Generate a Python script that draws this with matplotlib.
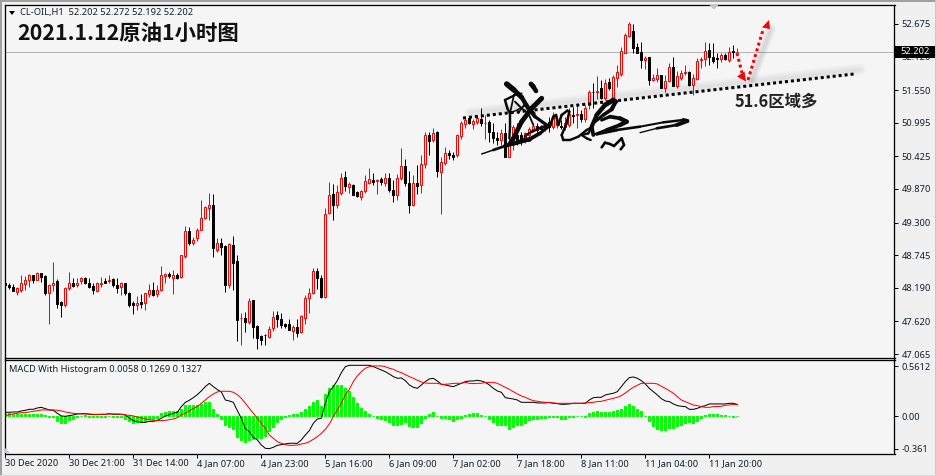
"""CL-OIL H1 candles with MACD pane, MT4 style."""

import numpy as np
from matplotlib import pyplot as plt
from matplotlib.patches import Polygon

plt.switch_backend("Agg")

W, H = 937, 476
DPI = 100
PX = 72 / DPI  # one pixel in points

BG = "#f5f5f5"
RED = "#ff0000"
GREEN = "#00ff00"
TEXT = "#10202c"
UI_FONT = ["Noto Sans", "DejaVu Sans"]
CJK_FONT = ["Noto Sans CJK SC", "DejaVu Sans"]
UI_SIZE = 6.7
PEN_SCALE = 1.45  # signature looked thin at the widths

opens = [
    48.27, 48.24, 48.20, 48.12, 48.16, 48.26, 48.33, 48.40, 48.33, 48.44,
    48.39, 48.11, 48.23, 48.30, 47.95, 47.89, 48.18, 48.27, 48.23, 48.30,
    48.36, 48.28, 48.22, 48.14, 48.26, 48.30, 48.30, 48.34, 48.23, 48.21,
    48.27, 48.11, 47.93, 47.89, 47.95, 47.94, 48.09, 48.15, 48.09, 48.16,
    48.39, 48.42, 48.35, 48.41, 48.37, 48.73, 49.16, 48.96, 49.03, 49.18,
    49.38, 49.54, 49.60, 48.84, 48.95, 48.90, 48.23, 48.92, 48.65, 47.67,
    47.68, 47.61, 47.98, 47.54, 47.37, 47.39, 47.36, 47.50, 47.73, 47.66,
    47.57, 47.575, 47.46, 47.525, 47.44, 47.67, 48.02, 48.11, 48.48, 48.36,
    48.03, 49.46, 49.785, 49.60, 49.81, 50.068, 49.91, 49.94, 49.82, 49.74,
    49.84, 49.98, 50.02, 50.00, 50.035, 49.98, 50.05, 49.85, 49.77, 50.05,
    50.26, 49.97, 49.59, 49.97, 49.94, 50.30, 50.79, 50.70, 50.84, 50.165,
    50.32, 50.487, 50.45, 50.45, 50.775, 50.975, 51.07, 50.975, 51.015, 51.06,
    50.99, 51.015, 50.845, 50.74, 50.70, 50.82, 50.42, 50.618, 50.788, 50.788,
    50.692, 50.788, 50.884, 50.94, 50.918, 50.90, 51.015, 50.918, 50.958, 50.94,
    50.918, 50.958, 51.128, 51.128, 51.145, 51.055, 51.298, 51.525, 51.519, 51.58,
    51.41, 51.695, 51.411, 51.763, 51.825, 52.188, 52.477, 52.562, 52.29, 52.193,
    52.063, 52.108, 51.723, 51.74, 51.808, 51.593, 51.706, 51.95, 51.621, 51.763,
    51.836, 51.865, 51.638, 51.746, 52.063, 52.08, 52.227, 52.108, 52.091, 52.074,
    52.148, 52.063, 52.216, 52.202,
]
highs = [
    48.30, 48.27, 48.26, 48.21, 48.41, 48.39, 48.42, 48.41, 48.46, 48.45,
    48.40, 48.26, 48.63, 48.34, 47.97, 48.20, 48.46, 48.35, 48.35, 48.37,
    48.37, 48.36, 48.27, 48.29, 48.37, 48.36, 48.41, 48.35, 48.36, 48.29,
    48.28, 48.12, 47.97, 48.05, 48.09, 48.10, 48.26, 48.29, 48.23, 48.56,
    48.45, 48.46, 48.49, 48.45, 48.74, 49.24, 49.22, 49.05, 49.21, 49.68,
    49.58, 49.80, 49.785, 49.04, 49.04, 48.92, 48.95, 49.07, 48.75, 47.76,
    47.78, 48.02, 47.98, 47.55, 47.39, 47.405, 47.54, 47.80, 47.80, 47.77,
    47.60, 47.66, 47.55, 47.66, 47.73, 48.06, 48.19, 48.53, 48.52, 48.41,
    49.55, 49.99, 49.955, 49.94, 50.148, 50.176, 49.995, 49.955, 49.84, 49.86,
    50.11, 50.23, 50.14, 50.045, 50.08, 50.14, 50.15, 50.02, 50.125, 50.567,
    50.38, 50.176, 50.11, 50.27, 50.45, 50.845, 50.84, 50.90, 50.86, 50.41,
    50.58, 50.53, 50.505, 50.805, 51.03, 51.07, 51.11, 51.055, 51.11, 51.24,
    51.128, 51.04, 51.00, 50.845, 50.885, 50.99, 50.82, 50.958, 50.986, 50.845,
    50.845, 50.93, 50.986, 50.986, 50.958, 51.015, 51.10, 51.185, 51.07, 51.043,
    51.10, 51.24, 51.258, 51.298, 51.213, 51.298, 51.553, 51.666, 51.797, 51.72,
    51.734, 51.751, 51.808, 51.978, 52.29, 52.528, 52.703, 52.675, 52.346, 52.363,
    52.131, 52.108, 51.825, 51.921, 51.808, 51.808, 52.006, 52.12, 51.882, 51.893,
    51.978, 51.876, 51.825, 52.091, 52.12, 52.363, 52.346, 52.346, 52.176, 52.188,
    52.176, 52.278, 52.318, 52.272,
]
lows = [
    48.20, 48.17, 48.14, 48.06, 48.12, 48.16, 48.21, 48.28, 48.32, 48.29,
    48.07, 47.58, 48.14, 47.84, 47.70, 47.86, 48.16, 48.20, 48.21, 48.26,
    48.26, 48.19, 48.09, 48.12, 48.20, 48.27, 48.27, 48.20, 48.10, 48.06,
    48.07, 47.87, 47.745, 47.82, 47.85, 47.82, 48.04, 48.05, 48.04, 48.13,
    48.27, 48.35, 48.09, 48.34, 48.36, 48.70, 48.92, 48.92, 48.98, 49.17,
    49.36, 49.34, 48.72, 48.80, 48.75, 48.12, 48.18, 48.15, 47.29, 47.22,
    47.44, 47.575, 47.33, 47.155, 47.21, 47.22, 47.34, 47.46, 47.53, 47.51,
    47.50, 47.47, 47.30, 47.35, 47.42, 47.575, 47.76, 48.09, 48.17, 48.02,
    48.02, 49.445, 49.34, 49.547, 49.768, 49.84, 49.796, 49.76, 49.73, 49.68,
    49.81, 49.955, 49.94, 49.785, 49.94, 49.92, 49.825, 49.655, 49.68, 50.02,
    49.925, 49.47, 49.58, 49.785, 49.81, 50.22, 50.45, 50.675, 50.08, 49.45,
    50.28, 50.38, 50.37, 50.42, 50.72, 50.90, 50.975, 50.89, 50.975, 50.94,
    50.72, 50.675, 50.65, 50.62, 50.62, 50.41, 50.42, 50.533, 50.618, 50.618,
    50.646, 50.73, 50.845, 50.816, 50.845, 50.862, 50.845, 50.884, 50.90, 50.884,
    50.873, 50.93, 50.986, 50.90, 51.015, 51.015, 51.224, 51.241, 51.394, 51.394,
    51.383, 51.553, 51.383, 51.598, 51.79, 52.176, 52.46, 52.176, 52.176, 51.921,
    51.904, 51.638, 51.706, 51.695, 51.581, 51.525, 51.689, 51.621, 51.581, 51.723,
    51.808, 51.621, 51.468, 51.723, 51.921, 51.961, 51.978, 52.006, 51.933, 52.035,
    52.063, 52.035, 52.103, 52.192,
]
closes = [
    48.23, 48.21, 48.14, 48.18, 48.28, 48.32, 48.40, 48.32, 48.44, 48.37,
    48.10, 48.24, 48.28, 47.92, 47.89, 48.18, 48.27, 48.22, 48.28, 48.35,
    48.28, 48.21, 48.16, 48.27, 48.28, 48.28, 48.32, 48.23, 48.19, 48.27,
    48.10, 47.90, 47.89, 47.94, 47.92, 48.10, 48.15, 48.07, 48.16, 48.40,
    48.42, 48.39, 48.40, 48.35, 48.74, 49.15, 48.96, 49.01, 49.18, 49.37,
    49.56, 49.59, 48.86, 48.95, 48.89, 48.23, 48.93, 48.62, 47.64, 47.68,
    47.61, 47.96, 47.53, 47.34, 47.31, 47.38, 47.49, 47.70, 47.66, 47.56,
    47.535, 47.47, 47.52, 47.43, 47.71, 48.01, 48.11, 48.47, 48.35, 48.03,
    49.44, 49.76, 49.59, 49.813, 50.05, 49.92, 49.955, 49.77, 49.75, 49.84,
    50.00, 50.035, 49.99, 50.02, 49.99, 50.05, 49.85, 49.77, 50.05, 50.255,
    49.97, 49.60, 49.98, 49.92, 50.29, 50.78, 50.69, 50.816, 50.18, 50.325,
    50.475, 50.45, 50.42, 50.79, 51.00, 51.05, 50.985, 51.025, 51.07, 50.99,
    51.00, 50.845, 50.74, 50.70, 50.83, 50.41, 50.62, 50.918, 50.675, 50.692,
    50.816, 50.884, 50.947, 50.873, 50.884, 50.97, 50.93, 51.09, 51.015, 50.918,
    50.986, 51.145, 51.117, 51.15, 51.066, 51.253, 51.525, 51.513, 51.542, 51.41,
    51.666, 51.581, 51.78, 51.853, 52.216, 52.488, 52.675, 52.273, 52.188, 52.063,
    52.103, 51.723, 51.751, 51.802, 51.593, 51.706, 51.938, 51.627, 51.791, 51.836,
    51.853, 51.638, 51.751, 52.046, 52.08, 52.216, 52.108, 52.046, 52.074, 52.148,
    52.08, 52.205, 52.193, 52.202,
]

macd_line = [
    .045, .045, .048, .048, .060, .067, .078, .078, .093, .100,
    .086, .071, .067, .033, .004, 0, .007, .015, .026, .030,
    .030, .022, .019, .019, .022, .022, .030, .022, .022, .022,
    .015, -.019, -.048, -.060, -.067, -.067, -.056, -.056, -.045, -.022,
    .004, .019, .033, .045, .108, .156, .179, .208, .242, .283,
    .331, .368, .331, .298, .272, .182, .171, .156, .063, -.022,
    -.138, -.171, -.234, -.264, -.320, -.357, -.361, -.346, -.324, -.316,
    -.309, -.301, -.301, -.301, -.264, -.208, -.160, -.078, -.030, -.022,
    .145, .275, .331, .398, .487, .554, .569, .569, .569, .569,
    .569, .569, .554, .536, .517, .498, .472, .443, .424, .428,
    .398, .350, .324, .312, .350, .387, .417, .424, .394, .357,
    .350, .339, .331, .350, .368, .387,
    .394, .394, .402, .394, .379, .350, .312, .283, .268, .208,
    .201, .193, .182, .156, .156, .156, .156, .149, .149, .149,
    .156, .145, .141, .134, .134, .138, .145, .145, .145, .145,
    .182, .208, .212, .212, .238, .249, .257, .275, .331, .387,
    .432, .439, .424, .398, .361, .312, .275, .238, .197, .171,
    .164, .138, .119, .112, .108, .078, .078, .089, .108, .119,
    .138, .138, .138, .138, .138, .145, .145, .1327,
]
signal_line = [
    .004, .019, .026, .033, .041, .041, .048, .056, .063, .071,
    .071, .071, .071, .067, .060, .048, .041, .033, .030, .026,
    .026, .026, .022, .022, .022, .022, .026, .026, .026, .022,
    .015, .011, .004, -.007, -.019, -.030, -.037, -.045, -.048, -.048,
    -.045, -.037, -.030, -.015, .015, .033, .060, .086, .108, .145,
    .182, .219, .249, .272, .279, .279, .279, .268, .242, .201,
    .145, .089, .033, -.022, -.078, -.134, -.208, -.246, -.283, -.301,
    -.316, -.324, -.324, -.320, -.309, -.301, -.283, -.257, -.227, -.190,
    -.145, -.086, -.004, .071, .145, .238, .301, .387, .450, .498,
    .536, .554, .562, .562, .562, .554, .536, .525, .502, .487,
    .465, .443, .424, .402, .383, .372, .368, .368, .368, .357,
    .357, .361, .368, .368, .368, .379,
    .368, .365, .368, .368, .376, .379, .379, .368, .346, .324,
    .301, .275, .249, .227, .212, .190, .175, .167, .160, .156,
    .153, .149, .145, .145, .145, .145, .145, .145, .145, .149,
    .153, .156, .164, .167, .179, .190, .201, .212, .231, .260,
    .294, .324, .346, .368, .368, .368, .368, .361, .335, .312,
    .286, .257, .219, .182, .164, .145, .126, .119, .108, .100,
    .100, .108, .108, .112, .123, .126, .134, .1269,
]
macd_hist = [
    .041, .033, .026, .022, .022, .026, .030, .030, .030, .030,
    .011, -.011, -.011, -.052, -.071, -.071, -.045, -.030, -.007, .004,
    .015, -.004, -.004, -.004, -.007, -.004, 0, -.007, -.007, -.007,
    -.033, -.052, -.071, -.063, -.063, -.048, -.033, -.033, -.022, .033,
    .052, .056, .063, .056, .086, .123, .123, .123, .130, .138,
    .156, .156, .078, .026, -.030, -.100, -.123, -.138, -.234, -.264,
    -.283, -.264, -.253, -.242, -.242, -.219, -.164, -.115, -.063, -.033,
    -.007, .011, .022, .022, .048, .078, .115, .164, .182, .115,
    .249, .320, .350, .350, .346, .312, .286, .219, .145, .089,
    .056, .026, 0, -.022, -.030, -.041, -.063, -.093, -.097, -.086,
    -.063, -.112, -.119, -.119, -.078, -.022, .026, .048, .007, -.019,
    -.022, -.030, -.048, -.030, -.019, .015,
    .026, .033, .037, .015, 0, -.033, -.063, -.093, -.100, -.100,
    -.141, -.115, -.100, -.093, -.071, -.041, -.033, -.026, -.019, -.015,
    -.007, -.004, -.007, -.026, -.030, -.007, -.004, 0, 0, -.004,
    .033, .052, .056, .048, .048, .048, .056, .071, .086, .115,
    .138, .115, .086, .060, .007, -.052, -.112, -.138, -.153, -.153,
    -.130, -.126, -.108, -.093, -.071, -.063, -.074, -.048, -.015, .011,
    .026, .026, .022, .019, .011, .007, -.004, .0058,
]

price_ticks = [52.675, 52.120, 51.550, 50.995, 50.425, 49.870, 49.300, 48.745, 48.190, 47.620, 47.065]
macd_ticks = [0.5612, 0.0, -0.361]
macd_tick_labels = ["0.5612", "0.00", "-0.361"]
time_tick_index = [0, 16, 32, 48, 64, 80, 96, 112, 128, 144, 160, 176]
time_tick_labels = [
    "30 Dec 2020", "30 Dec 21:00", "31 Dec 14:00", "4 Jan 07:00", "4 Jan 23:00", "5 Jan 16:00",
    "6 Jan 09:00", "7 Jan 02:00", "7 Jan 18:00", "8 Jan 11:00", "11 Jan 04:00", "11 Jan 20:00",
]
last_price = 52.202

# hand-written signature over the chart: (start width, end width, points),
# points are in pixels of a 3x crop whose corner sits at (450, 70)
SIGNATURE = [
    (0.6, 3.2, [(95, 252), (130, 240), (165, 228), (200, 218)]),
    (3.2, 2.0, [(200, 218), (240, 207), (270, 190), (300, 166)]),
    (2.2, 1.0, [(300, 166), (275, 172), (245, 185), (225, 198), (222, 212), (240, 212)]),
    (4.0, 2.0, [(170, 42), (192, 60), (215, 82), (235, 115), (255, 140), (290, 165)]),
    (3.5, 3.0, [(243, 42), (250, 50), (258, 63)]),
    (3.5, 3.0, [(275, 85), (245, 115), (215, 155), (190, 205), (180, 220)]),
    (1.8, 1.6, [(165, 90), (172, 115), (180, 130), (180, 170), (178, 205)]),
    (1.8, 1.0, [(165, 90), (195, 75), (215, 70)]),
    (1.2, 1.2, [(192, 74), (180, 130)]),
    (1.4, 1.2, [(195, 95), (215, 115), (235, 130), (250, 165)]),
    (1.0, 1.0, [(180, 130), (205, 118), (230, 105)]),
    (1.0, 1.0, [(205, 130), (225, 100), (255, 130)]),
    (1.8, 1.6, [(300, 168), (310, 140), (318, 135), (325, 165), (335, 135), (352, 122), (358, 125),
                (350, 160), (335, 195), (340, 210), (360, 210), (385, 200), (410, 180), (425, 172),
                (415, 190), (395, 195), (410, 205), (422, 210)]),
    (2.5, 3.4, [(430, 195), (425, 170), (440, 135), (465, 105), (490, 90)]),
    (3.4, 2.0, [(490, 90), (497, 95), (485, 118), (460, 135), (435, 155)]),
    (2.0, 3.2, [(455, 150), (480, 140), (510, 145), (530, 155)]),
    (3.2, 2.0, [(530, 155), (510, 165), (470, 180), (440, 192)]),
    (2.4, 1.2, [(440, 192), (500, 180), (570, 170), (640, 157)]),
    (1.2, 3.2, [(640, 157), (700, 150), (712, 153)]),
    (3.2, 0.5, [(712, 153), (680, 165), (620, 175), (570, 188)]),
    (1.8, 1.8, [(455, 232), (465, 218), (480, 222), (492, 228), (515, 205), (522, 225), (512, 238)]),
]

x = np.arange(len(closes))
opens_a, closes_a = np.array(opens), np.array(closes)
highs_a, lows_a = np.array(highs), np.array(lows)
up = closes_a >= opens_a


def value_limits(y0, v0, y1, v1, top_px, bottom_px):
    """Value limits (bottom, top) for a pane from two (pixel, value) pairs."""
    per_px = (v1 - v0) / (y1 - y0)
    return v0 + (bottom_px - y0) * per_px, v0 + (top_px - y0) * per_px


def pane(left, right, top, bottom):
    return fig.add_axes([left / W, 1 - bottom / H, (right - left) / W, (bottom - top) / H], facecolor=BG)


def draw_stroke(target, w0, w1, pts):
    """One pen stroke: rounded, width tapering from w0 to w1."""
    pts = np.array(pts, dtype=float)
    xs = 450 + pts[:, 0] / 3
    ys = 70 + pts[:, 1] / 3
    n = len(pts) - 1
    for i in range(n):
        width = (w0 + (w1 - w0) * (i + 0.5) / n) * PEN_SCALE
        target.plot(xs[i:i + 2], ys[i:i + 2], color="#0a0a0a", lw=width * PX, solid_capstyle="round")


fig = plt.figure(figsize=(W / DPI, H / DPI), dpi=DPI, facecolor="#f0f0f0")

# candles sit at x = 5.33 + 4 * i pixels
xlim = ((4.5 - 5.33) / 4, (894.5 - 5.33) / 4)

ax = pane(4.5, 894.5, 4.5, 357.5)
ax.set_xlim(*xlim)
ax.set_ylim(*value_limits(24, 52.675, 354, 47.065, 4.5, 357.5))
ax.axhline(last_price, color="#b4b4b4", lw=1 * PX, zorder=1)
ax.vlines(x[up], lows_a[up], highs_a[up], color=RED, lw=1 * PX, zorder=2)
ax.vlines(x[~up], lows_a[~up], highs_a[~up], color="black", lw=1 * PX, zorder=2)
bottoms = np.minimum(opens_a, closes_a)
heights = np.abs(closes_a - opens_a)
ax.bar(x[up], heights[up], bottom=bottoms[up], width=0.5, facecolor=BG, edgecolor=RED, linewidth=1 * PX, zorder=3)
ax.bar(x[~up], heights[~up], bottom=bottoms[~up], width=0.5, facecolor="black", edgecolor="black", linewidth=1 * PX, zorder=3)
ax.set_xticks([])
ax.yaxis.tick_right()
ax.set_yticks(price_ticks)
ax.set_yticklabels([f"{t:.3f}" for t in price_ticks], fontsize=UI_SIZE, family=UI_FONT, color=TEXT)
ax.tick_params(axis="y", length=3, width=1 * PX, pad=2)

sub = pane(4.5, 894.5, 359.5, 453.5)
sub.set_xlim(*xlim)
sub.set_ylim(*value_limits(366, 0.5612, 416.3, 0.0, 359.5, 453.5))
sub.bar(np.arange(len(macd_hist)), macd_hist, width=0.5, color=GREEN, edgecolor=GREEN, linewidth=1 * PX, zorder=2)
sub.plot(np.arange(len(macd_line)), macd_line, color="black", lw=1 * PX, zorder=3)
sub.plot(np.arange(len(signal_line)), signal_line, color=RED, lw=1 * PX, zorder=4)
sub.yaxis.tick_right()
sub.set_yticks(macd_ticks)
sub.set_yticklabels(macd_tick_labels, fontsize=UI_SIZE, family=UI_FONT, color=TEXT)
sub.tick_params(axis="y", length=3, width=1 * PX, pad=2)
sub.set_xticks(time_tick_index)
sub.set_xticklabels(time_tick_labels, fontsize=UI_SIZE, family=UI_FONT, color=TEXT, ha="left")
sub.tick_params(axis="x", length=3, width=1 * PX, pad=1)

for pane_ax in (ax, sub):
    for spine in pane_ax.spines.values():
        spine.set_linewidth(1.3 * PX)

# pixel-space overlay for everything hand drawn on the chart
ov = fig.add_axes([0, 0, 1, 1], zorder=10)
ov.set_xlim(0, W)
ov.set_ylim(H, 0)
ov.axis("off")
ov.patch.set_alpha(0)

# window chrome
ov.plot([0, W], [1, 1], color="#a0a0a0", lw=2 * PX)
ov.plot([1, 1], [0, H], color="#a0a0a0", lw=2 * PX)
ov.plot([935.5, 935.5], [0, H], color="#c8c8c8", lw=1 * PX)
ov.plot([0, W], [475, 475], color="#d8d8d8", lw=1 * PX)

ov.add_patch(Polygon([(9, 11), (15, 11), (12, 15)], color="black", lw=0))
ov.add_patch(Polygon([(709, 4.5), (719, 4.5), (714, 9.5)], color="#c4c4c4", lw=0))
ov.add_patch(Polygon([(5, 448), (5, 453), (10.5, 453)], color="#c8c8c8", lw=0))

# current price tag
ov.add_patch(plt.Rectangle((895.5, 45.5), 40, 12.5, color="black", lw=0))
ov.text(900, 51.7, f"{last_price:.3f}", color="white", fontsize=UI_SIZE, family=UI_FONT, va="center", ha="left")

ov.text(20, 12.5, "CL-OIL,H1  52.202 52.272 52.192 52.202", fontsize=UI_SIZE, family=UI_FONT, color=TEXT, va="center")
ov.text(9, 369, "MACD With Histogram 0.0058 0.1269 0.1327", fontsize=UI_SIZE, family=UI_FONT, color=TEXT, va="center")

ov.text(17, 33, "2021.1.12原油1小时图", fontsize=15.4, family=CJK_FONT, weight="bold", color="#111111", va="center")
ov.text(735, 102, "51.6区域多", fontsize=11.8, family=CJK_FONT, weight="bold", color="#222222", va="center")

# support line with soft shadow
for w in (12, 9, 6, 3):
    ov.plot([470, 860], [113, 69.5], color="black", alpha=0.02, lw=w * PX, solid_capstyle="round")
ov.plot([463, 854], [118, 74], color="black", lw=3 * PX, linestyle=(0, (1, 1)))

# red arrows with soft shadow
for w in (9, 6, 3):
    ov.plot([752, 771], [80, 29], color="black", alpha=0.04, lw=w * PX, solid_capstyle="round")
ov.plot([737, 742], [53, 73], color=RED, lw=3 * PX, linestyle=(0, (1, 1)))
ov.plot([748, 763], [80, 30], color=RED, lw=3 * PX, linestyle=(0, (1, 1)))
ov.add_patch(Polygon([(746, 81.5), (737, 76.5), (744.5, 71.5)], color=RED, lw=0))
ov.add_patch(Polygon([(769, 20), (762, 27.5), (770, 29)], color=RED, lw=0))

for w0, w1, stroke in SIGNATURE:
    draw_stroke(ov, w0, w1, stroke)

fig.savefig("out.png", dpi=DPI, facecolor=fig.get_facecolor())
plt.close(fig)
